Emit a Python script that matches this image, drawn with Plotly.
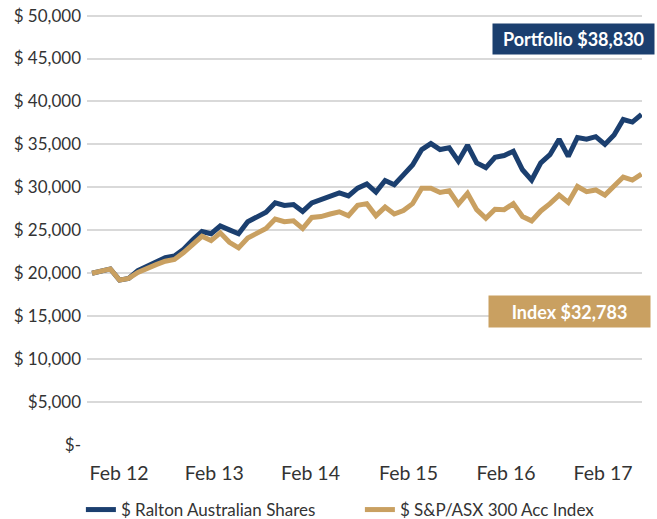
import plotly.graph_objects as go

# Monthly-ish observations (index positions along the category axis)
portfolio = [20.0, 20.2, 20.5, 19.2, 19.4, 20.3, 20.8, 21.3, 21.8, 22.0,
             22.8, 23.9, 24.85, 24.6, 25.5, 25.05, 24.6, 26.0, 26.6, 27.1,
             28.2, 27.9, 28.0, 27.2, 28.2, 28.6, 29.0, 29.35, 29.0, 29.9,
             30.4, 29.45, 30.8, 30.3, 31.45, 32.6, 34.4, 35.1, 34.4, 34.6,
             33.05, 34.9, 32.85, 32.3, 33.5, 33.7, 34.2, 32.05, 30.85, 32.85,
             33.8, 35.6, 33.6, 35.8, 35.6, 35.9, 35.0, 36.1, 37.9, 37.6, 38.5]
index_vals = [20.0, 20.2, 20.5, 19.2, 19.4, 20.1, 20.6, 21.0, 21.4, 21.6,
              22.4, 23.4, 24.3, 23.8, 24.7, 23.6, 22.95, 24.1, 24.7, 25.2,
              26.3, 26.0, 26.1, 25.2, 26.5, 26.6, 26.9, 27.15, 26.7, 27.9,
              28.1, 26.7, 27.7, 26.9, 27.3, 28.1, 29.9, 29.9, 29.4, 29.6,
              28.05, 29.3, 27.4, 26.4, 27.45, 27.4, 28.1, 26.6, 26.1, 27.25,
              28.1, 29.1, 28.25, 30.1, 29.5, 29.7, 29.1, 30.1, 31.2, 30.85, 31.55]
portfolio = [v * 1000 for v in portfolio]
index_vals = [v * 1000 for v in index_vals]

x_labels = ["Feb 12", "Feb 13", "Feb 14", "Feb 15", "Feb 16", "Feb 17"]
x_label_pos = [2.95, 13.35, 23.85, 34.55, 45.2, 55.8]
y_ticks = [0, 5000, 10000, 15000, 20000, 25000, 30000, 35000, 40000, 45000, 50000]
y_labels = ["$-", "$5,000", "$ 10,000", "$ 15,000", "$ 20,000", "$ 25,000",
            "$ 30,000", "$ 35,000", "$ 40,000", "$ 45,000", "$ 50,000"]

series_names = ["$ Ralton Australian Shares", "$ S&P/ASX 300 Acc Index"]
portfolio_label = "Portfolio $38,830"
index_label = "Index $32,783"

BLUE = "#1b3f6f"
TAN = "#c9a061"
FONT = "Lato, 'Noto Sans', sans-serif"
TXT = "#333333"

x = list(range(len(portfolio)))

fig = go.Figure()
fig.add_trace(go.Scatter(x=x, y=portfolio, mode="lines", name=series_names[0],
                         line=dict(color=BLUE, width=5)))
fig.add_trace(go.Scatter(x=x, y=index_vals, mode="lines", name=series_names[1],
                         line=dict(color=TAN, width=5)))

fig.update_layout(
    width=657, height=519,
    margin=dict(l=87, r=15, t=13, b=74, autoexpand=False),
    paper_bgcolor="white", plot_bgcolor="white",
    font=dict(family=FONT, size=17, color=TXT),
    showlegend=True,
    legend=dict(orientation="h", x=-0.011, xanchor="left", y=-0.1505, yanchor="middle",
                font=dict(size=17, color=TXT), itemwidth=30, tracegroupgap=0,
                entrywidthmode="pixels", entrywidth=234),
    xaxis=dict(range=[-0.55, 60.05], tickvals=x_label_pos, ticktext=x_labels,
               showgrid=False, zeroline=False, showline=False, ticks="",
               tickfont=dict(size=19.5, color=TXT), ticklabelstandoff=14),
    yaxis=dict(range=[0, 50300], tickvals=y_ticks, ticktext=y_labels,
               showgrid=True, gridcolor="#d9d9d9", gridwidth=1.5,
               zeroline=False, showline=False, ticks="",
               ticklabeloverflow="allow",
               tickfont=dict(size=17, color=TXT), ticklabelstandoff=5),
    annotations=[
        dict(text="<b>" + portfolio_label + "</b>", xref="paper", yref="paper",
             x=0.877, y=0.94, xanchor="center", yanchor="middle", showarrow=False,
             bgcolor=BLUE, width=161, height=30, borderpad=0,
             font=dict(family=FONT, size=18, color="white")),
        dict(text="<b>" + index_label + "</b>", xref="paper", yref="paper",
             x=0.869, y=0.309, xanchor="center", yanchor="middle", showarrow=False,
             bgcolor=TAN, width=161, height=31, borderpad=0,
             font=dict(family=FONT, size=18, color="white")),
    ],
)

fig.write_html("out.html", config={"displayModeBar": False},
               post_script="document.body.style.margin='0';")
